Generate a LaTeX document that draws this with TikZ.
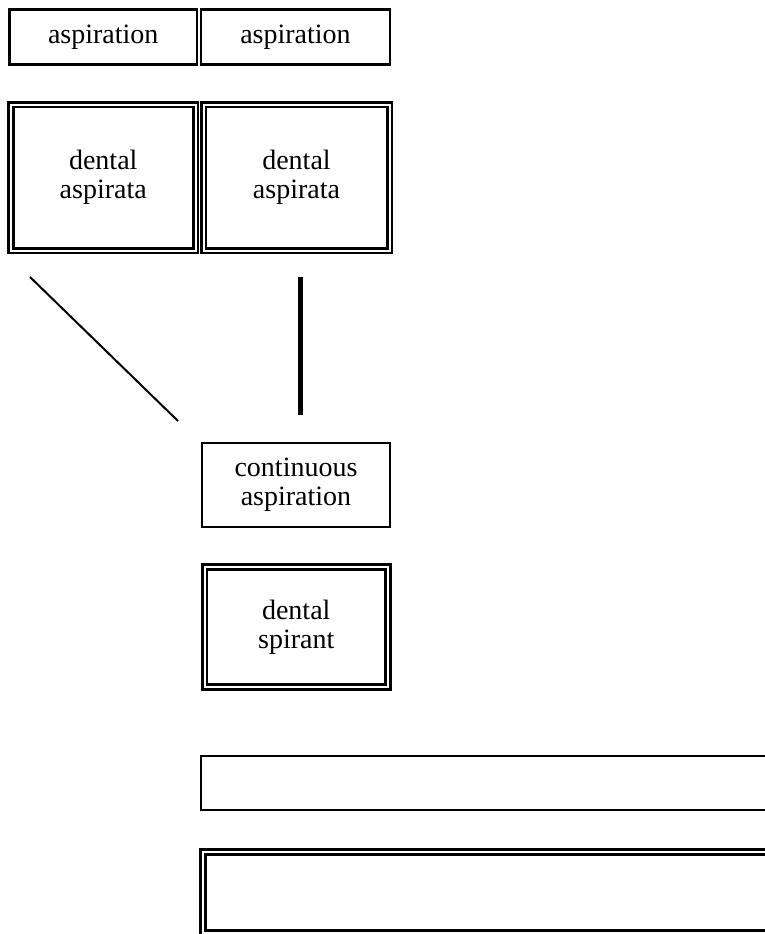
\documentclass[tikz,border=0pt]{standalone}
\usepackage{fontspec}
\setmainfont{Liberation Serif}
\begin{document}
\begin{tikzpicture}[x=1pt,y=-1pt,
  every node/.style={inner sep=0pt,outer sep=0pt,align=center,font=\fontsize{28}{29}\selectfont},
  single/.style={draw,line width=2.7pt,rectangle},
  dbl/.style={draw,line width=2.7pt,double,double distance=2pt,rectangle}]
\clip (0,0) rectangle (765,934);
\node[single,minimum width=187.5pt,minimum height=55pt] (a1) at (103.25,37) {aspiration};
\node[single,minimum width=189pt,minimum height=55pt] (a2) at (295.5,37) {aspiration};
\node[dbl,minimum width=184.5pt,minimum height=146pt] (d1) at (103.25,177.5) {dental\\aspirata};
\node[dbl,minimum width=186pt,minimum height=146pt] (d2) at (296.5,177.5) {dental\\aspirata};
\coordinate (l1a) at (30,277);
\coordinate (l1b) at (178,421);
\coordinate (l2a) at (300,277);
\coordinate (l2b) at (300,415);
\draw[line width=2pt] (l1a) -- (l1b);
\draw[line width=5pt] (l2a) -- (l2b);
\node[single,minimum width=188pt,minimum height=84pt] (c) at (296,485) {continuous\\aspiration};
\node[dbl,minimum width=183.5pt,minimum height=120pt] (s) at (296.25,627) {dental\\spirant};
\node[single,minimum width=700pt,minimum height=54pt] (e1) at (551,783) {};
\node[dbl,minimum width=700pt,minimum height=81pt] (e2) at (553,892.5) {};
\end{tikzpicture}
\end{document}
